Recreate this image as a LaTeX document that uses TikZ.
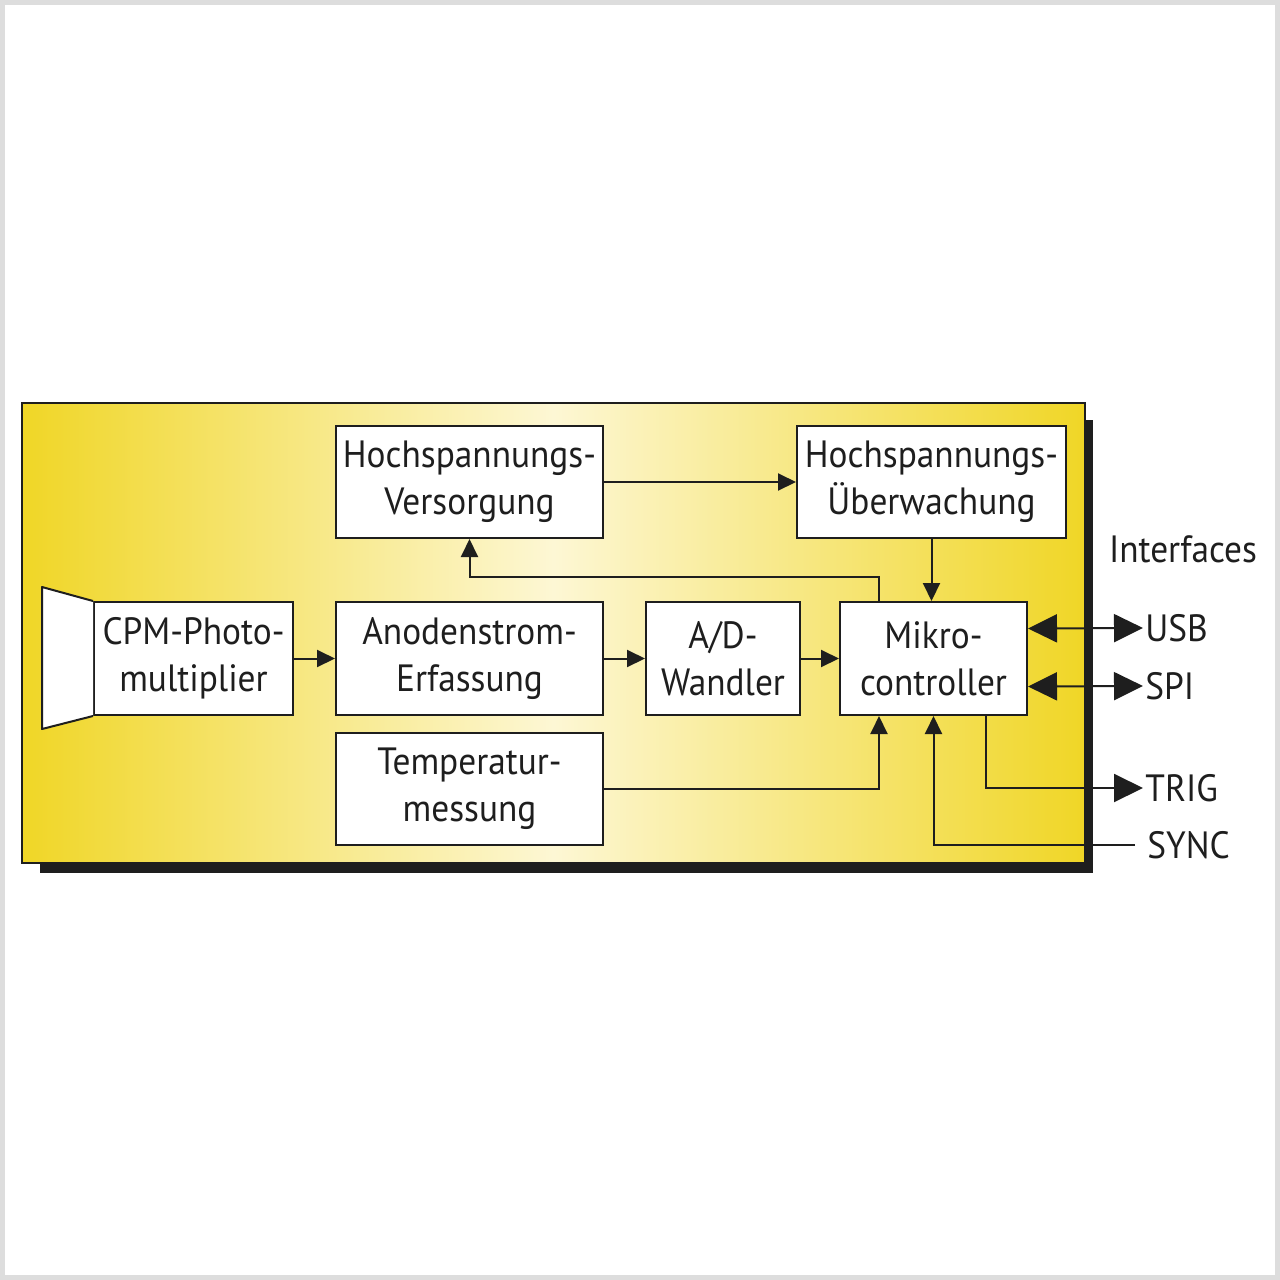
\documentclass[tikz,border=0pt]{standalone}
\usepackage{fontspec}
\setmainfont[FakeStretch=0.93]{PT Sans}
\usetikzlibrary{arrows.meta}
\definecolor{gelb}{RGB}{240,214,38}
\definecolor{hellgelb}{RGB}{253,247,212}
\definecolor{rahmen}{RGB}{221,221,221}
\definecolor{schrift}{RGB}{30,30,30}
\tikzset{
  block/.style={draw=schrift, fill=white, line width=1pt, inner sep=0pt,
    align=center, text=schrift, font=\fontsize{19}{23.5}\selectfont},
  schild/.style={inner sep=1pt, text=schrift, font=\fontsize{19}{23.5}\selectfont},
  pfeil/.style={-{Triangle[length=9pt,width=8.5pt]}, line width=1pt, draw=schrift},
  bipfeil/.style={{Triangle[length=14.5pt,width=14pt]}-{Triangle[length=14.5pt,width=14pt]},
    line width=1pt, draw=schrift},
}

\begin{document}
\begin{tikzpicture}[x=0.5pt,y=-0.5pt]
\useasboundingbox (0,0) rectangle (1280,1280);
% frame
\fill[white] (0,0) rectangle (1280,1280);
\draw[rahmen, line width=2.5pt] (2.5,2.5) rectangle (1277.5,1277.5);
% board with shadow
\fill[schrift] (40,420) rectangle (1093,873);
\shade[left color=gelb, right color=gelb, middle color=hellgelb] (22,403) rectangle (1085,863);
\draw[schrift, line width=1pt] (22,403) rectangle (1085,863);
% blocks
\node[block, minimum width=133.5pt, minimum height=56pt] (vers) at (469.5,482)
  {Hochspannungs-\\Versorgung};
\node[block, minimum width=134.5pt, minimum height=56pt] (ueber) at (931.5,482)
  {Hochspannungs-\\Überwachung};
\node[block, minimum width=99.5pt, minimum height=56.5pt] (cpm) at (193.5,658.5)
  {CPM-Photo-\\multiplier};
\node[block, minimum width=133.5pt, minimum height=56.5pt] (anode) at (469.5,658.5)
  {Anodenstrom-\\Erfassung};
\node[block, minimum width=77pt, minimum height=56.5pt] (adw) at (723,658.5)
  {A/D-\\Wandler};
\node[block, minimum width=93.5pt, minimum height=56.5pt] (mikro) at (933.5,658.5)
  {Mikro-\\controller};
\node[block, minimum width=133.5pt, minimum height=56pt] (temp) at (469.5,789)
  {Temperatur-\\messung};
% photocathode window
\draw[schrift, fill=white, line width=1pt, line join=round]
  (cpm.north west) -- ++(-51,-14) -- ++(0,142) -- (cpm.south west);
% interface labels
\node[schild] (intf) at (1183,549) {Interfaces};
\node[schild, anchor=west] (usb) at (1143,628) {USB};
\node[schild, anchor=west] (spi) at (1143,686) {SPI};
\node[schild, anchor=west] (trig) at (1143,788) {TRIG};
\node[schild, anchor=west, inner sep=6pt] (sync) at (1135,845) {SYNC};
% signal path
\draw[pfeil] (cpm) -- (anode);
\draw[pfeil] (anode) -- (adw);
\draw[pfeil] (adw) -- (mikro);
\draw[pfeil] (vers) -- (ueber);
\draw[pfeil] (ueber.south) -- (ueber.south |- mikro.north);
\draw[pfeil] ([xshift=20pt]mikro.north west) -- ++(0,-24) -| (vers.south);
\draw[pfeil] (temp.east) -| ([xshift=20pt]mikro.south west);
% interfaces
\draw[bipfeil] ([yshift=15pt]mikro.east) -- (usb.west);
\draw[bipfeil] ([yshift=-14pt]mikro.east) -- (spi.west);
\draw[-{Triangle[length=14.5pt,width=14pt]}, line width=1pt, draw=schrift]
  ([xshift=-21pt]mikro.south east) |- (trig.west);
\draw[pfeil] (sync.west) -| (mikro.south);
\end{tikzpicture}
\end{document}
